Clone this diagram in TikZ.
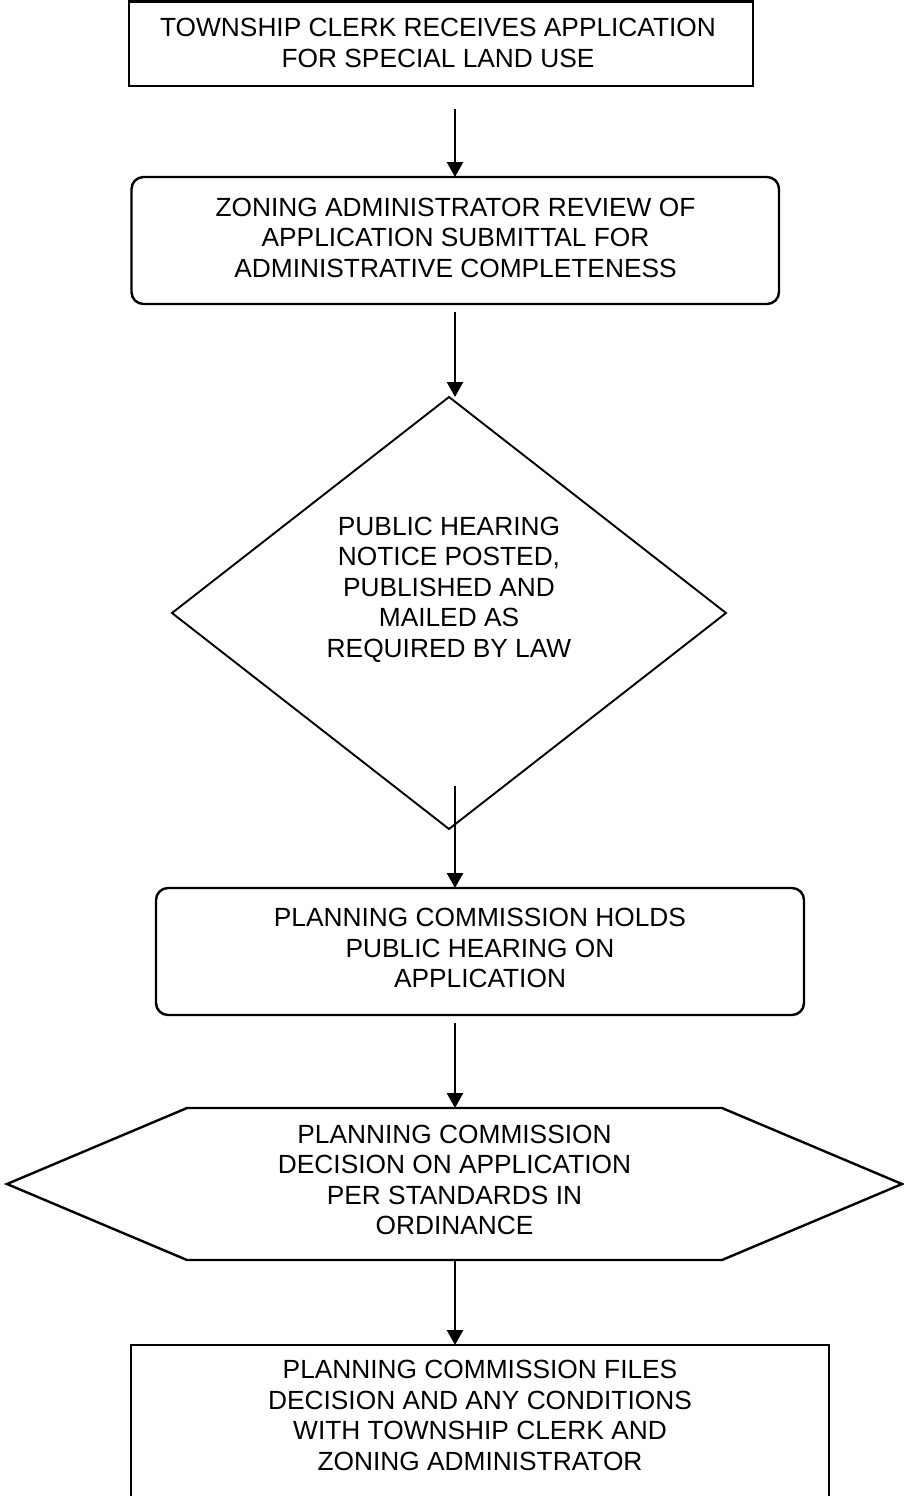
\documentclass[tikz,border=0pt]{standalone}
\usepackage{fontspec}
\setmainfont{Liberation Sans}
\usetikzlibrary{arrows.meta,calc}
\begin{document}
\begin{tikzpicture}[x=1pt,y=-1pt,
  shp/.style={rectangle,inner sep=0pt,outer sep=0pt},
  boxline/.style={line width=2.4pt},
  txt/.style={anchor=north,inner sep=0pt,align=center,font=\fontsize{26.3}{30.5}\selectfont},
  arr/.style={line width=2.4pt,-{Triangle[width=16pt,length=15pt]}}]
\clip (0,0) rectangle (904,1496);
\fill[white] (0,0) rectangle (904,1496);

% shapes
\node[shp,draw,boxline,minimum width=624pt,minimum height=84.5pt] (b1) at (441,43.75) {};
\node[shp,draw,boxline,rounded corners=12pt,minimum width=647.5pt,minimum height=127pt] (b2) at (455.25,240.5) {};
\node[shp,minimum width=554pt,minimum height=432pt] (d) at (449,613) {};
\draw[line width=1.9pt,line join=miter] (d.north) -- (d.east) -- (d.south) -- (d.west) -- cycle;
\node[shp,draw,boxline,rounded corners=12pt,minimum width=648pt,minimum height=127pt] (b3) at (480,951.5) {};
\node[shp,minimum width=895pt,minimum height=152pt] (h) at (454.5,1184) {};
\draw[boxline] (h.west) -- ([xshift=180pt]h.north west) -- ([xshift=-180pt]h.north east) -- (h.east) -- ([xshift=-180pt]h.south east) -- ([xshift=180pt]h.south west) -- cycle;
\node[shp,draw,boxline,minimum width=698pt,minimum height=170pt] (b5) at (480,1430) {};

% texts
\node[txt] (t1) at (438,18.3) {TOWNSHIP CLERK RECEIVES APPLICATION\\FOR SPECIAL LAND USE};
\node[txt] (t2) at (455.5,197.7) {ZONING ADMINISTRATOR REVIEW OF\\APPLICATION SUBMITTAL FOR\\ADMINISTRATIVE COMPLETENESS};
\node[txt] (td) at (449,516.7) {PUBLIC HEARING\\NOTICE POSTED,\\PUBLISHED AND\\MAILED AS\\REQUIRED BY LAW};
\node[txt] (t3) at (480,908.3) {PLANNING COMMISSION HOLDS\\PUBLIC HEARING ON\\APPLICATION};
\node[txt] (th) at (454.5,1124.5) {PLANNING COMMISSION\\DECISION ON APPLICATION\\PER STANDARDS IN\\ORDINANCE};
\node[txt] (t5) at (480,1360) {PLANNING COMMISSION FILES\\DECISION AND ANY CONDITIONS\\WITH TOWNSHIP CLERK AND\\ZONING ADMINISTRATOR};

% connectors
\coordinate (ax) at (455,0);
\draw[arr] ($(ax |- b1.south)+(0,23)$) -- (ax |- b2.north);
\draw[arr] ($(ax |- b2.south)+(0,8)$) -- (ax |- d.north);
\draw[arr] ($(ax |- d.south)+(0,-43)$) -- (ax |- b3.north);
\draw[arr] ($(ax |- b3.south)+(0,8)$) -- (ax |- h.north);
\draw[arr] (ax |- h.south) -- (ax |- b5.north);
\end{tikzpicture}
\end{document}
